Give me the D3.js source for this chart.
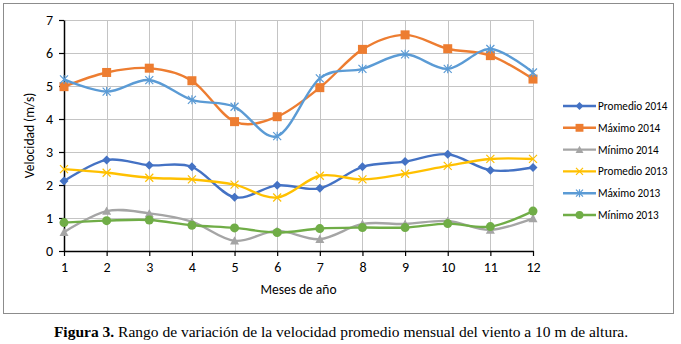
<!DOCTYPE html>
<html>
<head>
<meta charset="utf-8">
<script src="https://cdnjs.cloudflare.com/ajax/libs/d3/7.8.5/d3.min.js"></script>
<style>
  body { margin: 0; background: #fff; }
  #chart { width: 681px; height: 344px; }
</style>
</head>
<body>
<div id="chart"></div>
<script>
// months
const months = [1, 2, 3, 4, 5, 6, 7, 8, 9, 10, 11, 12];
const yTicks = [0, 1, 2, 3, 4, 5, 6, 7];

// series values (m/s)
const promedio2014 = [2.12, 2.76, 2.6, 2.55, 1.63, 1.99, 1.9, 2.55, 2.71, 2.93, 2.45, 2.53];
const maximo2014 = [4.98, 5.41, 5.54, 5.16, 3.92, 4.07, 4.95, 6.11, 6.55, 6.13, 5.92, 5.21];
const minimo2014 = [0.57, 1.21, 1.14, 0.89, 0.31, 0.61, 0.36, 0.82, 0.82, 0.91, 0.64, 0.99];
const promedio2013 = [2.48, 2.37, 2.22, 2.17, 2.01, 1.62, 2.28, 2.17, 2.34, 2.58, 2.79, 2.79];
const maximo2013 = [5.2, 4.83, 5.18, 4.58, 4.37, 3.48, 5.23, 5.52, 5.96, 5.52, 6.12, 5.41];
const minimo2013 = [0.86, 0.92, 0.94, 0.78, 0.7, 0.56, 0.68, 0.71, 0.71, 0.83, 0.74, 1.21];

const seriesNames = ["Promedio 2014", "Máximo 2014", "Mínimo 2014", "Promedio 2013", "Máximo 2013", "Mínimo 2013"];

const series = [
    { name: seriesNames[0], values: promedio2014, color: "#4472C4", marker: "diamond" },
    { name: seriesNames[1], values: maximo2014, color: "#ED7D31", marker: "square" },
    { name: seriesNames[2], values: minimo2014, color: "#A5A5A5", marker: "triangle" },
    { name: seriesNames[3], values: promedio2013, color: "#FFC000", marker: "cross" },
    { name: seriesNames[4], values: maximo2013, color: "#5B9BD5", marker: "star" },
    { name: seriesNames[5], values: minimo2013, color: "#70AD47", marker: "circle" }
];

const W = 681, H = 344;
const margin = { top: 20, right: 148, bottom: 93, left: 64 };
const width = W - margin.left - margin.right;
const height = H - margin.top - margin.bottom;
const font = "Carlito, 'Noto Sans', 'Liberation Sans', sans-serif";

const svg = d3.select("#chart").append("svg")
    .attr("width", W)
    .attr("height", H);

// outer chart frame
svg.append("rect")
    .attr("x", 3.5).attr("y", 3.5)
    .attr("width", 670).attr("height", 310)
    .attr("fill", "#fff")
    .attr("stroke", "#8c8c8c")
    .attr("stroke-width", 1);

const g = svg.append("g")
    .attr("transform", `translate(${margin.left},${margin.top})`);

const x = d3.scaleLinear().domain([1, 12]).range([0, width]);
const y = d3.scaleLinear().domain([0, 7]).range([height, 0]);

// gridlines
g.append("g").selectAll("line.h")
    .data(yTicks.slice(1))
    .enter().append("line")
    .attr("x1", 0).attr("x2", width)
    .attr("y1", d => Math.round(y(d)) + 0.5).attr("y2", d => Math.round(y(d)) + 0.5)
    .attr("stroke", "#c4c4c4");

g.append("g").selectAll("line.v")
    .data(months.slice(1))
    .enter().append("line")
    .attr("y1", 0).attr("y2", height)
    .attr("x1", d => Math.round(x(d)) + 0.5).attr("x2", d => Math.round(x(d)) + 0.5)
    .attr("stroke", "#c4c4c4");

// axes
const xAxis = g.append("g")
    .attr("transform", `translate(0,${height})`)
    .call(d3.axisBottom(x).tickValues(months).tickFormat(d3.format("d")).tickSize(5).tickSizeOuter(0).tickPadding(6));

const yAxis = g.append("g")
    .call(d3.axisLeft(y).tickValues(yTicks).tickFormat(d3.format("d")).tickSize(5).tickSizeOuter(0).tickPadding(6));

[xAxis, yAxis].forEach(a => {
    a.select(".domain").attr("stroke", "#000").attr("stroke-width", 1.5);
    a.selectAll(".tick line").attr("stroke", "#000").attr("stroke-width", 1.2);
    a.selectAll("text")
        .style("font-family", font)
        .style("font-size", "14px")
        .attr("fill", "#000");
});

// axis titles
svg.append("text")
    .attr("x", margin.left + width / 2)
    .attr("y", 294)
    .attr("text-anchor", "middle")
    .style("font-family", font)
    .style("font-size", "13.5px")
    .text("Meses de año");

svg.append("text")
    .attr("transform", `translate(34,${margin.top + height / 2}) rotate(-90)`)
    .attr("text-anchor", "middle")
    .style("font-family", font)
    .style("font-size", "13.5px")
    .text("Velocidad (m/s)");

function drawMarker(sel, s, size) {
    const k = size / 8;
    if (s.marker === "diamond") {
        sel.append("path").attr("d", `M0,${-4.5 * k}L${4.5 * k},0L0,${4.5 * k}L${-4.5 * k},0Z`).attr("fill", s.color);
    } else if (s.marker === "square") {
        sel.append("rect").attr("x", -4.5 * k).attr("y", -4.5 * k).attr("width", 9 * k).attr("height", 9 * k).attr("fill", s.color);
    } else if (s.marker === "triangle") {
        sel.append("path").attr("d", `M0,${-4.5 * k}L${4.5 * k},${3.8 * k}L${-4.5 * k},${3.8 * k}Z`).attr("fill", s.color);
    } else if (s.marker === "circle") {
        sel.append("circle").attr("r", 4.5 * k).attr("fill", s.color);
    } else if (s.marker === "cross") {
        sel.append("path").attr("d", `M${-4 * k},${-4 * k}L${4 * k},${4 * k}M${-4 * k},${4 * k}L${4 * k},${-4 * k}`)
            .attr("stroke", s.color).attr("stroke-width", 1.2).attr("fill", "none");
    } else if (s.marker === "star") {
        sel.append("path").attr("d", `M${-4 * k},${-4 * k}L${4 * k},${4 * k}M${-4 * k},${4 * k}L${4 * k},${-4 * k}M0,${-4.5 * k}L0,${4.5 * k}`)
            .attr("stroke", s.color).attr("stroke-width", 1.2).attr("fill", "none");
    }
}

const line = d3.line()
    .x((d, i) => x(months[i]))
    .y(d => y(d))
    .curve(d3.curveCatmullRom.alpha(0));

series.forEach(s => {
    g.append("path")
        .datum(s.values)
        .attr("fill", "none")
        .attr("stroke", s.color)
        .attr("stroke-width", 2.4)
        .attr("d", line);

    g.append("g").selectAll("g")
        .data(s.values)
        .enter().append("g")
        .attr("transform", (d, i) => `translate(${x(months[i])},${y(d)})`)
        .each(function () { drawMarker(d3.select(this), s, 8); });
});

// legend
const legend = svg.append("g").attr("transform", "translate(563,106)");
series.forEach((s, i) => {
    const row = legend.append("g").attr("transform", `translate(0,${i * 21.8})`);
    row.append("line")
        .attr("x1", 0).attr("x2", 33)
        .attr("stroke", s.color).attr("stroke-width", 2.4);
    row.append("g").attr("transform", "translate(16.5,0)")
        .each(function () { drawMarker(d3.select(this), s, 7); });
    row.append("text")
        .attr("x", 35).attr("y", 4)
        .style("font-family", font)
        .style("font-size", "11.2px")
        .text(s.name);
});

// caption
const cap = svg.append("text")
    .attr("x", 341).attr("y", 337)
    .attr("text-anchor", "middle")
    .style("font-family", "'Liberation Serif', 'DejaVu Serif', serif")
    .style("font-size", "15.5px");
cap.append("tspan").style("font-weight", "bold").text("Figura 3.");
cap.append("tspan").text(" Rango de variación de la velocidad promedio mensual del viento a 10 m de altura.");
</script>
</body>
</html>
